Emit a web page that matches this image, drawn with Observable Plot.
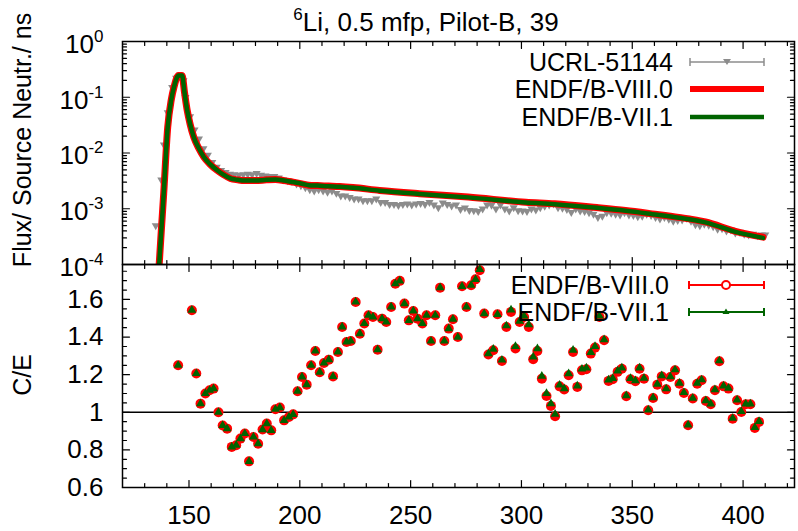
<!DOCTYPE html>
<html><head><meta charset="utf-8">
<script src="https://cdn.jsdelivr.net/npm/d3@7"></script>
<script src="https://cdn.jsdelivr.net/npm/@observablehq/plot@0.6"></script>
<style>
body{margin:0;background:#fff}
#wrap{position:relative;width:798px;height:531px;font-family:"Liberation Sans",Arial,sans-serif;overflow:hidden;background:#fff}
.abs{position:absolute}
</style></head><body>
<div id="wrap">
 <div id="top" class="abs" style="left:0;top:0"></div>
 <div id="bot" class="abs" style="left:0;top:263px"></div>
 <svg id="ann" class="abs" width="798" height="531" style="left:0;top:0" font-family="Liberation Sans, Arial, sans-serif">
  <text x="426" y="31" text-anchor="middle" font-size="26"><tspan font-size="17" dy="-11">6</tspan><tspan dy="11">Li, 0.5 mfp, Pilot-B, 39</tspan></text>
  <text transform="translate(31,140) rotate(-90)" text-anchor="middle" font-size="25">Flux/ Source Neutr./ ns</text>
  <text transform="translate(31,375) rotate(-90)" text-anchor="middle" font-size="25">C/E</text>
  <g font-size="25" text-anchor="end">
   <text x="673" y="71">UCRL-51144</text>
   <line x1="690" x2="764" y1="62" y2="62" stroke="#8c8c8c" stroke-width="1.5"/>
   <line x1="690" x2="690" y1="58" y2="66" stroke="#8c8c8c" stroke-width="1.5"/>
   <line x1="764" x2="764" y1="58" y2="66" stroke="#8c8c8c" stroke-width="1.5"/>
   <path d="M723,59 L731,59 L727,65 Z" fill="#8c8c8c"/>
   <text x="673" y="98">ENDF/B-VIII.0</text>
   <line x1="690" x2="764" y1="89" y2="89" stroke="red" stroke-width="6"/>
   <text x="673" y="126">ENDF/B-VII.1</text>
   <line x1="690" x2="764" y1="117" y2="117" stroke="#006400" stroke-width="4.5"/>
   <text x="669" y="294">ENDF/B-VIII.0</text>
   <line x1="689" x2="764" y1="285" y2="285" stroke="red" stroke-width="2"/>
   <line x1="689" x2="689" y1="281" y2="289" stroke="red" stroke-width="2"/>
   <line x1="764" x2="764" y1="281" y2="289" stroke="red" stroke-width="2"/>
   <circle cx="726" cy="285" r="4" fill="#fff" stroke="red" stroke-width="2"/>
   <text x="669" y="321">ENDF/B-VII.1</text>
   <line x1="689" x2="764" y1="312" y2="312" stroke="#006400" stroke-width="2"/>
   <line x1="689" x2="689" y1="308" y2="316" stroke="#006400" stroke-width="2"/>
   <line x1="764" x2="764" y1="308" y2="316" stroke="#006400" stroke-width="2"/>
   <path d="M722.5,314 L729.5,314 L726,308.5 Z" fill="#006400"/>
  </g>
 </svg>
</div>
<script>
// ---------- data ----------
const calcX   = [136.2,137.5,138.6,140.4,142.0,143.2,145.3,146.9,148.0,149.2,150.5,152.2,154.5,156.7,159.5,162.7,165.5,168.7,172.0,175.0,180.0,185.0,189.0,193.0,197.0,201.0,204.0,208.0,213.0,218.0,224.0,236.0,254.0,276.0,302.0,315.0,334.0,347.0,359.0,371.0,383.0,397.0,409.0];
const calcVIII= [6e-5,4e-4,1.9e-3,0.029,0.09,0.151,0.245,0.245,0.12,0.058,0.033,0.019,0.012,0.0085,0.0063,0.0049,0.0041,0.0035,0.0033,0.0032,0.0032,0.0033,0.00335,0.0032,0.003,0.0028,0.00265,0.0026,0.00255,0.0025,0.0024,0.00213,0.00186,0.00162,0.00131,0.00123,0.00105,0.00093,0.00081,0.0007,0.00058,0.00039,0.00031];
const calcVII = [6e-5,4e-4,1.9e-3,0.029,0.09,0.151,0.245,0.245,0.12,0.058,0.033,0.019,0.012,0.0085,0.0063,0.0049,0.0041,0.0035,0.0033,0.0032,0.0032,0.0033,0.00333,0.0032,0.003,0.0028,0.00264,0.0026,0.00253,0.00248,0.00238,0.00211,0.00184,0.0016,0.0013,0.00121,0.00104,0.00092,0.0008,0.00069,0.00057,0.00038,0.0003];

const expX = [135.0,137.5,138.7,140.4,142.4,144.2,146.0,147.5,148.4,150.5,152.5,154.5,156.5,158.5,160.5,162.5,164.5,166.5,168.5,170.5,172.5,174.5,176.5,178.5,180.5,182.5,184.5,186.5,188.5,190.5,192.5,194.5,196.5,198.5,200.5,202.5,204.5,206.5,208.5,210.5,212.5,214.5,216.5,218.5,220.5,222.5,224.5,226.5,228.5,230.5,232.5,234.5,236.5,238.5,240.5,242.5,244.5,246.5,248.5,250.5,252.5,254.5,256.5,258.5,260.5,262.5,264.5,266.5,268.5,270.5,272.5,274.5,276.5,278.5,280.5,282.5,284.5,286.5,288.5,290.5,292.5,294.5,296.5,298.5,300.5,302.5,304.5,306.5,308.5,310.5,312.5,314.5,316.5,318.5,320.5,322.5,324.5,326.5,328.5,330.5,332.5,334.5,336.5,338.5,340.5,342.5,344.5,346.5,348.5,350.5,352.5,354.5,356.5,358.5,360.5,362.5,364.5,366.5,368.5,370.5,372.5,374.5,376.5,378.5,380.5,382.5,384.5,386.5,388.5,390.5,392.5,394.5,396.5,398.5,400.5,402.5,404.5,406.5,408.5,410.0];
const expY = [5.0e-4,3.3e-3,1.4e-2,5.3e-2,0.15,0.22,0.25,0.2,0.10,0.045,0.026,0.018,0.012,0.0092,0.0068,0.0056,0.0049,0.0045,0.0042,0.0041,0.0040,0.0041,0.0042,0.0041,0.0043,0.0040,0.0039,0.0038,0.0038,0.0036,0.0033,0.0032,0.0031,0.0028,0.0026,0.0024,0.0022,0.0021,0.0022,0.0021,0.0020,0.0021,0.0019,0.0017,0.0017,0.0016,0.0015,0.0015,0.0014,0.0014,0.0014,0.0015,0.0013,0.0013,0.0012,0.0012,0.00115,0.0012,0.00122,0.00118,0.00122,0.00125,0.0012,0.0013,0.00118,0.00105,0.00128,0.0012,0.00113,0.00118,0.00098,0.00104,0.00094,0.00093,0.0009,0.001,0.00118,0.00116,0.001,0.00118,0.001,0.00092,0.00105,0.00093,0.00092,0.0009,0.001,0.00096,0.00105,0.00112,0.00118,0.00122,0.00105,0.00103,0.00098,0.00086,0.001,0.00092,0.0009,0.00085,0.0008,0.0007,0.00074,0.00085,0.00084,0.0008,0.00078,0.00085,0.00078,0.00076,0.00072,0.00074,0.0008,0.00076,0.0007,0.00066,0.0007,0.00065,0.0006,0.00062,0.00063,0.00068,0.0006,0.00052,0.0005,0.00053,0.00051,0.00048,0.00043,0.00044,0.0004,0.00042,0.00037,0.00038,0.00035,0.00034,0.00035,0.00033,0.00034,0.00034];

const ceX = [145.1,151.3,153.3,155.2,157.4,159.3,161.1,163.3,165.2,167.2,169.3,171.3,173.2,175.2,177.1,179.1,181.2,183.2,185.1,187.1,189.0,191.0,192.9,195.1,197.0,199.0,201.0,203.1,205.1,207.0,209.0,210.9,213.1,215.0,217.2,219.1,221.1,223.0,225.2,227.1,229.1,231.0,233.0,235.1,237.1,239.0,241.2,243.1,245.1,247.2,249.2,251.2,253.1,255.3,257.2,259.2,261.1,263.3,265.2,267.2,269.1,271.3,273.2,275.2,277.3,279.3,281.2,283.2,285.1,287.3,289.2,291.2,293.2,295.3,297.3,299.2,301.2,303.3,305.3,307.2,309.2,311.3,313.3,315.2,317.2,319.3,321.3,323.3,325.2,327.3,329.3,331.3,333.2,335.2,337.3,339.3,341.2,343.4,345.3,347.3,349.2,351.4,353.3,355.3,357.2,359.4,361.3,363.3,365.3,367.2,369.3,371.3,373.3,375.2,377.3,379.3,381.3,383.2,385.4,387.3,389.3,391.2,393.4,395.3,397.3,399.2,401.2,403.3,405.3,407.2];
const ceVIII = [1.25,1.543,1.206,1.046,1.10,1.117,1.126,1.0,0.93,0.913,0.816,0.825,0.86,0.887,0.739,0.869,0.833,0.908,0.94,0.904,1.016,1.025,0.957,0.975,0.989,1.112,1.188,1.147,1.25,1.326,1.213,1.262,1.28,1.191,1.321,1.454,1.374,1.379,1.587,1.418,1.472,1.516,1.507,1.333,1.498,1.48,1.56,1.684,1.699,1.578,1.489,1.539,1.498,1.472,1.516,1.379,1.516,1.663,1.379,1.445,1.495,1.40,1.67,1.56,1.676,1.707,1.755,1.525,1.307,1.33,1.521,1.273,1.454,1.534,1.339,1.48,1.507,1.454,1.282,1.326,1.179,1.087,1.034,0.979,1.138,1.121,1.197,1.321,1.135,1.223,1.229,1.312,1.344,1.507,1.383,1.167,1.176,1.215,1.232,1.085,1.176,1.165,1.232,1.179,1.011,1.076,1.147,1.191,1.122,1.188,1.223,1.152,1.103,0.931,1.073,1.152,1.17,1.06,1.043,1.117,1.271,1.138,1.126,0.966,1.064,1.002,1.043,1.043,0.917,0.949];
const ceVII = [1.25,1.543,1.206,1.046,1.10,1.117,1.126,1.0,0.93,0.913,0.816,0.825,0.86,0.887,0.739,0.869,0.833,0.908,0.94,0.904,1.016,1.025,0.957,0.975,0.989,1.112,1.188,1.147,1.25,1.326,1.213,1.262,1.28,1.191,1.321,1.454,1.374,1.379,1.587,1.418,1.472,1.516,1.507,1.333,1.498,1.48,1.56,1.684,1.699,1.578,1.489,1.539,1.498,1.472,1.516,1.379,1.516,1.663,1.379,1.445,1.495,1.40,1.67,1.56,1.676,1.707,1.76,1.525,1.312,1.336,1.521,1.278,1.46,1.545,1.35,1.485,1.512,1.466,1.295,1.338,1.192,1.10,1.046,0.99,1.145,1.126,1.205,1.33,1.14,1.23,1.236,1.318,1.35,1.512,1.386,1.172,1.18,1.22,1.236,1.088,1.18,1.168,1.236,1.182,1.013,1.078,1.15,1.195,1.125,1.19,1.226,1.155,1.105,0.933,1.075,1.155,1.173,1.062,1.045,1.12,1.274,1.14,1.128,0.968,1.066,1.004,1.045,1.045,0.919,0.951];

const xMajor = [150,200,250,300,350,400];
const xMinor = [130,140,160,170,180,190,210,220,230,240,260,270,280,290,310,320,330,340,360,370,380,390,410,420];
const topMajor = [1,0.1,0.01,0.001,0.0001];
const ceMajor = [0.6,0.8,1,1.2,1.4,1.6];
const ceMinor = [0.65,0.7,0.75,0.85,0.9,0.95,1.05,1.1,1.15,1.25,1.3,1.35,1.45,1.5,1.55,1.65,1.7,1.75];

// ---------- helpers ----------
const topMinor = [];
for (const m of [1e-4,1e-3,1e-2,1e-1]) for (let k = 2; k <= 9; k++) topMinor.push(m*k);

const calcRows = calcX.map((x,i) => ({x, viii: calcVIII[i], vii: calcVII[i]}));
const expRows = expX.map((x,i) => ({x, y: expY[i]}));
const ceRows = ceX.map((x,i) => ({x, viii: ceVIII[i], vii: ceVII[i]}));
const xDomain = [120, 423.2];
const FONT = "Liberation Sans, Arial, sans-serif";
const tickShape = {draw(ctx, l){ ctx.moveTo(0,0); ctx.lineTo(0,-l); }};
const tk = {stroke:"black", strokeWidth:1.2, shape:tickShape, anchor:"start"};
function xTicks(vals, len){
  return [
    Plot.vector(vals, {x:d=>d, frameAnchor:"bottom", rotate:0, length:len, ...tk}),
    Plot.vector(vals, {x:d=>d, frameAnchor:"top", rotate:180, length:len, ...tk})
  ];
}
function yTicks(vals, len){
  return [
    Plot.vector(vals, {y:d=>d, frameAnchor:"left", rotate:90, length:len, ...tk}),
    Plot.vector(vals, {y:d=>d, frameAnchor:"right", rotate:-90, length:len, ...tk})
  ];
}

const topPlot = Plot.plot({
  width: 798, height: 265,
  marginLeft: 122, marginRight: 4, marginTop: 41, marginBottom: 1,
  x: {domain: xDomain, axis: null},
  y: {type: "log", domain: [1e-4, 1], axis: null},
  style: {fontFamily: FONT, background: "transparent", overflow: "visible"},
  marks: [
    Plot.dot(expRows, {x:"x", y:"y", symbol:"triangle", rotate:180, r:3, fill:"#8c8c8c", clip:true}),
    Plot.line(calcRows, {x:"x", y:"viii", stroke:"red", strokeWidth:7, curve:"monotone-x", clip:true}),
    Plot.line(calcRows, {x:"x", y:"vii", stroke:"#006400", strokeWidth:4.5, curve:"monotone-x", clip:true}),
    ...xTicks(xMajor, 7), ...xTicks(xMinor, 4),
    ...yTicks(topMajor, 7), ...yTicks(topMinor, 4),
    Plot.axisY({ticks: topMajor, anchor:"left", tickSize:0, tickPadding:19, fontSize:26, dy:3, label:null,
      tickFormat: d => "10^" + Math.round(Math.log10(d))}),
    Plot.frame({stroke:"black", strokeWidth:1.5})
  ]
});
// superscript exponents on log tick labels
topPlot.querySelectorAll("text").forEach(t => {
  const s = t.textContent;
  if (s.startsWith("10^")) {
    const e = s.slice(3);
    t.textContent = "10";
    const sp = document.createElementNS("http://www.w3.org/2000/svg", "tspan");
    sp.setAttribute("dy", "-11");
    sp.setAttribute("font-size", "17");
    sp.textContent = e;
    t.appendChild(sp);
  }
});
document.getElementById("top").appendChild(topPlot);

const botPlot = Plot.plot({
  width: 798, height: 268,
  marginLeft: 122, marginRight: 4, marginTop: 1, marginBottom: 44,
  x: {domain: xDomain, axis: null},
  y: {domain: [0.6, 1.786], axis: null},
  style: {fontFamily: FONT, background: "transparent", overflow: "visible"},
  marks: [
    Plot.ruleY([1], {stroke:"black", strokeWidth:1.5}),
    Plot.dot(ceRows, {x:"x", y:"viii", r:5, fill:"red"}),
    Plot.dot(ceRows, {x:"x", y:"vii", symbol:"triangle", r:3.3, fill:"#006400"}),
    ...xTicks(xMajor, 7), ...xTicks(xMinor, 4),
    ...yTicks(ceMajor, 7), ...yTicks(ceMinor, 4),
    Plot.axisX({ticks: xMajor, anchor:"bottom", tickSize:0, tickPadding:18, fontSize:26, label:null, tickFormat: d => String(d)}),
    Plot.axisY({ticks: ceMajor, anchor:"left", tickSize:0, tickPadding:19, fontSize:26, label:null, tickFormat: d => String(d)}),
    Plot.frame({stroke:"black", strokeWidth:1.5})
  ]
});
document.getElementById("bot").appendChild(botPlot);
</script>
</body></html>
